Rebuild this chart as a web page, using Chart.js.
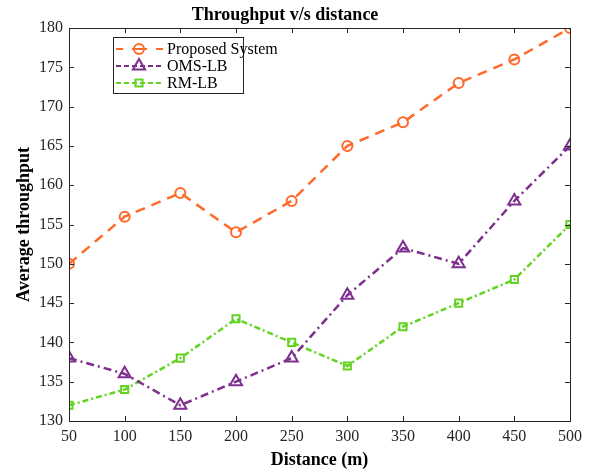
<!DOCTYPE html>
<html>
<head>
<meta charset="utf-8">
<script src="https://cdn.jsdelivr.net/npm/chart.js@4"></script>
<style>
  body { margin: 0; background: #fff; }
  #wrap { width: 595px; height: 474px; }
</style>
</head>
<body>
<div id="wrap"><canvas id="myChart" width="595" height="474"></canvas></div>
<script>
const distances = [50, 100, 150, 200, 250, 300, 350, 400, 450, 500];
const proposed = [150, 156, 159, 154, 158, 165, 168, 173, 176, 180];
const omsLb = [138, 136, 132, 135, 138, 146, 152, 150, 158, 165];
const rmLb = [132, 134, 138, 143, 140, 137, 142, 145, 148, 155];

const serif = "'Liberation Serif', 'Times New Roman', serif";
const axisColor = '#262626';

function pts(ys) {
    return distances.map((x, i) => ({ x: x, y: ys[i] }));
}

// MATLAB-style box with inward ticks on all four sides
const boxTicks = {
    id: 'boxTicks',
    afterDraw(chart) {
        const ctx = chart.ctx;
        const a = chart.chartArea;
        const xs = chart.scales.x, ys = chart.scales.y;
        ctx.save();
        ctx.strokeStyle = axisColor;
        ctx.lineWidth = 1;
        ctx.strokeRect(a.left + 0.5, a.top + 0.5, a.right - a.left, a.bottom - a.top);
        ctx.beginPath();
        xs.ticks.forEach(t => {
            const px = Math.round(xs.getPixelForValue(t.value)) + 0.5;
            ctx.moveTo(px, a.bottom); ctx.lineTo(px, a.bottom - 5);
            ctx.moveTo(px, a.top); ctx.lineTo(px, a.top + 5);
        });
        ys.ticks.forEach(t => {
            const py = Math.round(ys.getPixelForValue(t.value)) + 0.5;
            ctx.moveTo(a.left, py); ctx.lineTo(a.left + 5, py);
            ctx.moveTo(a.right, py); ctx.lineTo(a.right - 5, py);
        });
        ctx.stroke();
        ctx.restore();
    }
};

// legend drawn inside the plot, like the original
const innerLegend = {
    id: 'innerLegend',
    afterDraw(chart) {
        const ctx = chart.ctx;
        const bx = 113, by = 37, bw = 130, bh = 56;
        ctx.save();
        ctx.fillStyle = '#fff';
        ctx.fillRect(bx, by, bw, bh);
        ctx.strokeStyle = axisColor;
        ctx.lineWidth = 1;
        ctx.strokeRect(bx + 0.5, by + 0.5, bw, bh);
        chart.data.datasets.forEach((ds, i) => {
            const y = by + 12 + i * 17;
            ctx.strokeStyle = ds.borderColor;
            ctx.lineWidth = 2;
            ctx.setLineDash(ds.legendDash);
            ctx.beginPath();
            ctx.moveTo(bx + 3, y); ctx.lineTo(bx + 50, y);
            ctx.stroke();
            ctx.setLineDash([]);
            ctx.fillStyle = 'rgba(0,0,0,0)';
            Chart.helpers.drawPoint(ctx, {
                pointStyle: ds.pointStyle,
                radius: ds.pointRadius,
                borderWidth: ds.pointBorderWidth,
                rotation: 0
            }, bx + 26, y);
            ctx.fillStyle = '#000';
            ctx.font = '16px ' + serif;
            ctx.textBaseline = 'middle';
            ctx.fillText(ds.label, bx + 54, y + 1);
        });
        ctx.restore();
    }
};

const makeSet = (label, ys, color, dash, legendDash, style, r) => ({
    label: label,
    data: pts(ys),
    borderColor: color,
    backgroundColor: 'rgba(0,0,0,0)',
    pointBorderColor: color,
    pointBackgroundColor: 'rgba(0,0,0,0)',
    borderWidth: 2.5,
    borderDash: dash,
    legendDash: legendDash,
    pointStyle: style,
    pointRadius: r,
    pointBorderWidth: 2,
    tension: 0
});

const chartEl = document.getElementById('myChart');

const config = {
    type: 'line',
    data: {
        datasets: [
            makeSet('Proposed System', proposed, '#FF6A2B', [10, 7], [7, 9, 15, 9, 7, 100], 'circle', 5),
            makeSet('OMS-LB', omsLb, '#7E2F8E', [8, 4, 2, 4], [5, 3], 'triangle', 7),
            makeSet('RM-LB', rmLb, '#62D322', [6, 3, 2, 3], [5, 3], 'rect', 5)
        ]
    },
    options: {
        responsive: false,
        animation: false,
        layout: { padding: { left: 0, right: 25, top: 0, bottom: 0 } },
        plugins: {
            legend: { display: false },
            tooltip: { enabled: false },
            title: {
                display: true,
                text: 'Throughput v/s distance',
                color: '#000',
                font: { family: serif, size: 18, weight: 'bold' },
                padding: { top: 5, bottom: 1.4 }
            }
        },
        scales: {
            x: {
                type: 'linear',
                min: 50,
                max: 500,
                ticks: {
                    stepSize: 50,
                    color: axisColor,
                    font: { family: serif, size: 16 },
                    padding: 6,
                    maxRotation: 0
                },
                grid: { display: false, drawTicks: false },
                border: { display: false },
                title: {
                    display: true,
                    text: 'Distance (m)',
                    color: '#000',
                    font: { family: serif, size: 18, weight: 'bold' },
                    padding: { top: 2, bottom: 3 }
                },
                afterFit(scale) { scale.height = 53; }
            },
            y: {
                min: 130,
                max: 180,
                ticks: {
                    stepSize: 5,
                    color: axisColor,
                    font: { family: serif, size: 16 },
                    padding: 6
                },
                grid: { display: false, drawTicks: false },
                border: { display: false },
                title: {
                    display: true,
                    text: 'Average throughput',
                    color: '#000',
                    font: { family: serif, size: 18, weight: 'bold' },
                    padding: { top: 14, bottom: 4 }
                },
                afterFit(scale) { scale.width = 69; }
            }
        }
    },
    plugins: [boxTicks, innerLegend]
};

const myChart = new Chart(chartEl, config);
</script>
</body>
</html>
